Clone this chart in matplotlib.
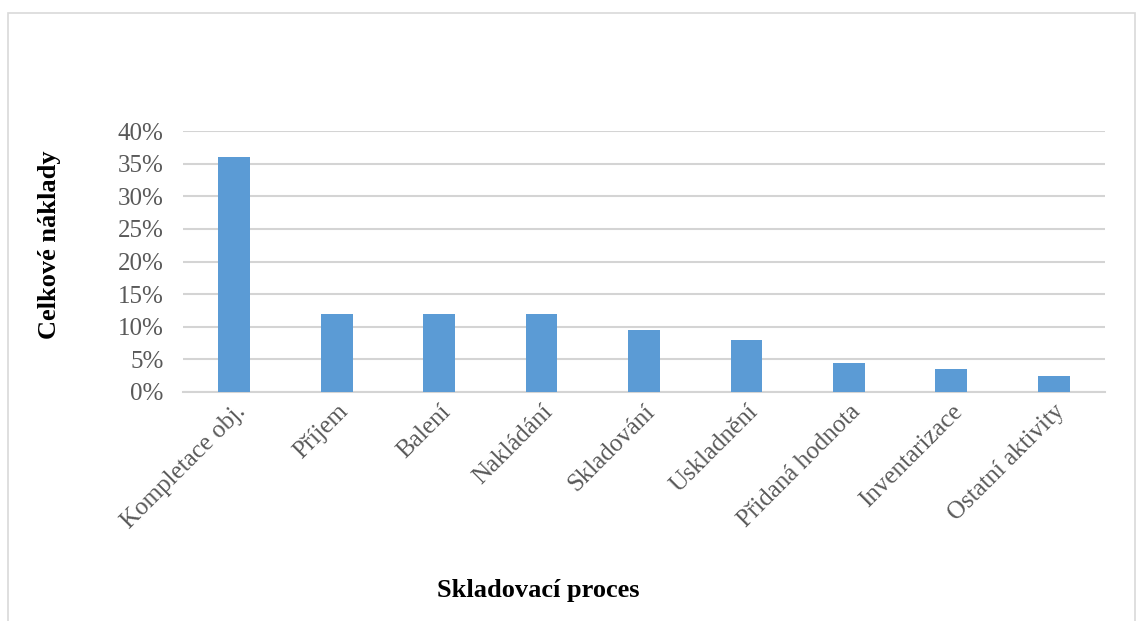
import matplotlib
matplotlib.use('Agg')
import matplotlib.pyplot as plt
from matplotlib.patches import Rectangle
from matplotlib.ticker import FuncFormatter

# Skladovací procesy a jejich podíl na celkových nákladech (%)
procesy = ['Kompletace obj.', 'Příjem', 'Balení', 'Nakládání', 'Skladování',
           'Uskladnění', 'Přidaná hodnota', 'Inventarizace', 'Ostatní aktivity']
naklady = [36, 12, 12, 12, 9.5, 8, 4.5, 3.5, 2.5]

plt.rcParams['font.family'] = ['Liberation Serif', 'DejaVu Serif']

fig = plt.figure(figsize=(11.44, 6.21), dpi=100)
ax = fig.add_axes([183/1144, 1 - 392/621, 922/1144, 261/621])

ax.bar(range(len(procesy)), naklady, width=0.31, color='#5B9BD5', zorder=3)

ax.set_ylim(0, 40)
ax.set_xlim(-0.5, len(procesy) - 0.5)
ax.set_yticks(range(0, 41, 5))
ax.yaxis.set_major_formatter(FuncFormatter(lambda v, p: '%d%%' % v))
ax.grid(axis='y', color='#D4D4D4', linewidth=1.5, zorder=0)
for s in ['top', 'right', 'left']:
    ax.spines[s].set_visible(False)
ax.spines['bottom'].set_color('#D4D4D4')
ax.spines['bottom'].set_linewidth(1.5)
ax.tick_params(length=0, labelsize=18, colors='#595959')
ax.tick_params(axis='y', pad=14)
ax.tick_params(axis='x', pad=6)
ax.set_xticks(range(len(procesy)))
ax.set_xticklabels(procesy, rotation=45, ha='right', rotation_mode='anchor')

fig.text(538/1144, 1 - 590/621, 'Skladovací proces', ha='center', va='center',
         fontsize=19, fontweight='bold')
fig.text(50/1144, 1 - 245/621, 'Celkové náklady', ha='center', va='center',
         rotation=90, fontsize=19, fontweight='bold')

# rámeček grafu
fig.patches.append(Rectangle((8/1144, -0.05), 1127/1144, 1 - 13/621 + 0.05,
                             transform=fig.transFigure, fill=False,
                             edgecolor='#D9D9D9', linewidth=1.2))

plt.savefig('out.png', dpi=100)
